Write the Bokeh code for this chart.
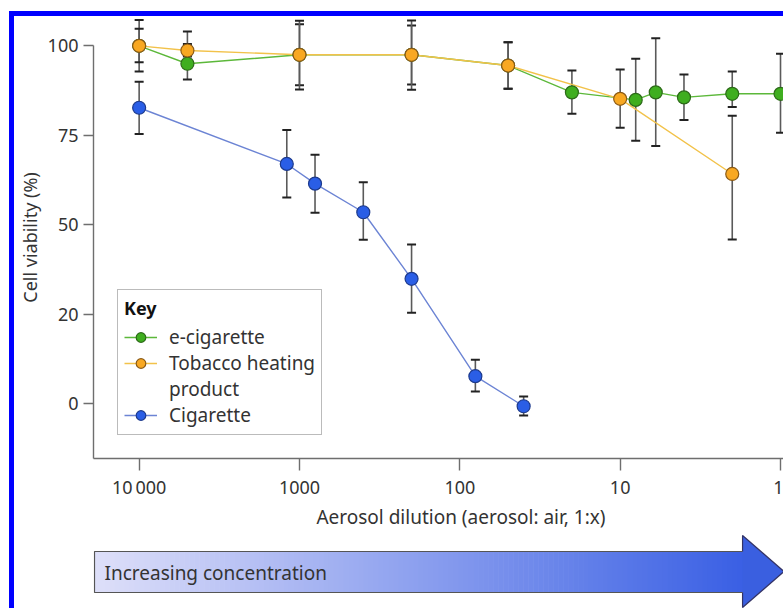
import numpy as np
from bokeh.plotting import figure
from bokeh.models import (Range1d, FixedTicker, Whisker, TeeHead, ColumnDataSource,
                          Legend, LegendItem, Div, Spacer)
from bokeh.layouts import column, row
from bokeh.embed import file_html
from bokeh.resources import INLINE
from bokeh.core.properties import value

FONT = "Noto Sans"
TEXT = "#333333"

# ---------------- data ----------------
dilution_ecig = [10000, 5000, 1000, 200, 50, 20, 8, 6, 4, 2, 1]
viability_ecig = [100, 95.0, 97.5, 97.5, 94.5, 87.0, 84.9, 87.0, 85.6, 86.6, 86.6]
ecig_upper = [107.2, 104.0, 106.0, 105.7, 101.0, 93.1, 96.4, 102.1, 92.0, 92.8, 97.8]
ecig_lower = [92.8, 90.6, 89.0, 89.2, 88.0, 81.0, 73.5, 72.0, 79.3, 82.9, 75.7]

dilution_thp = [10000, 5000, 1000, 200, 50, 10, 2]
viability_thp = [100, 98.7, 97.5, 97.5, 94.5, 85.2, 64.2]
thp_upper = [104.8, 100.5, 107.0, 107.1, 101.0, 93.4, 80.5]
thp_lower = [95.4, 97.0, 87.8, 87.7, 88.0, 77.1, 45.9]

dilution_cig = [10000, 1200, 800, 400, 200, 80, 40]
viability_cig = [82.7, 67.0, 61.5, 53.5, 34.9, 7.7, -0.7]
cig_upper = [90.0, 76.5, 69.6, 61.9, 44.5, 12.3, 2.0]
cig_lower = [75.4, 57.6, 53.4, 45.8, 25.4, 3.4, -3.3]

x_ticks = [10000, 1000, 100, 10, 1]
x_tick_labels = ["10\u2009000", "1000", "100", "10", "1"]
y_ticks = [0, 25, 50, 75, 100]
y_tick_labels = ["0", "20", "50", "75", "100"]

series_names = ["e-cigarette", "Tobacco heating", "product", "Cigarette"]
x_title = "Aerosol dilution (aerosol: air, 1:x)"
y_title = "Cell viability (%)"
arrow_text = "Increasing concentration"

# ---------------- main chart ----------------
p = figure(width=769, height=486, x_axis_type="log",
           x_range=Range1d(19260, 0.958), y_range=Range1d(-15.3, 108.2),
           output_backend="svg", toolbar_location=None, title=None,
           min_border_left=78, min_border_right=0, min_border_top=0,
           min_border_bottom=44, margin=0)
p.outline_line_color = None
p.grid.visible = False
p.background_fill_color = "white"
p.border_fill_color = "white"

for ax in (p.xaxis[0], p.yaxis[0]):
    ax.axis_line_color = "#6e6e6e"
    ax.axis_line_width = 1.4
    ax.major_tick_line_color = "#6e6e6e"
    ax.major_tick_line_width = 1.4
    ax.major_tick_in = 0
    ax.minor_tick_line_color = None
    ax.major_label_text_font = FONT
    ax.major_label_text_font_size = "18px"
    ax.major_label_text_color = TEXT
    ax.axis_label_text_font = FONT
    ax.axis_label_text_font_size = "18px"
    ax.axis_label_text_font_style = "normal"
    ax.axis_label_text_color = TEXT

p.xaxis.ticker = FixedTicker(ticks=x_ticks, minor_ticks=[])
p.xaxis.major_label_overrides = dict(zip(x_ticks, x_tick_labels))
p.xaxis.major_tick_out = 12
p.xaxis.major_label_standoff = 4

p.yaxis.ticker = FixedTicker(ticks=y_ticks, minor_ticks=[])
p.yaxis.major_label_overrides = dict(zip(y_ticks, y_tick_labels))
p.yaxis.major_tick_out = 10
p.yaxis.major_label_standoff = 5
p.yaxis.bounds = (-15.3, 100)
p.yaxis.axis_label = y_title
p.yaxis.axis_label_standoff = 3

styles = {
    "ecig": dict(line="#5cb83a", fill="#3fae1f", edge="#2c6a18"),
    "thp": dict(line="#f2c24a", fill="#f8a822", edge="#8a5a16"),
    "cig": dict(line="#6c84d4", fill="#2a5ee6", edge="#1d3a8c"),
}

sets = [
    ("ecig", dilution_ecig, viability_ecig, ecig_upper, ecig_lower),
    ("thp", dilution_thp, viability_thp, thp_upper, thp_lower),
    ("cig", dilution_cig, viability_cig, cig_upper, cig_lower),
]

renderers = {}
for key, xs, ys, up, lo in sets:
    st = styles[key]
    src = ColumnDataSource(dict(x=xs, y=ys, upper=up, lower=lo))
    w = Whisker(source=src, base="x", upper="upper", lower="lower",
                dimension="height", line_color="#5a5a5a", line_width=1.6,
                level="underlay",
                upper_head=TeeHead(size=9, line_color="#222222", line_width=2),
                lower_head=TeeHead(size=9, line_color="#222222", line_width=2))
    p.add_layout(w)
    ln = p.line("x", "y", source=src, line_color=st["line"], line_width=1.4)
    renderers[key] = [ln]

for key, xs, ys, up, lo in sets:
    st = styles[key]
    src = ColumnDataSource(dict(x=xs, y=ys))
    sc = p.scatter("x", "y", source=src, size=13, marker="circle",
                   fill_color=st["fill"], line_color=st["edge"], line_width=1.2)
    renderers[key].append(sc)

dummy = p.scatter(x=[], y=[], size=1, fill_alpha=0, line_alpha=0)

legend = Legend(items=[
    LegendItem(label=series_names[0], renderers=renderers["ecig"]),
    LegendItem(label=series_names[1], renderers=renderers["thp"]),
    LegendItem(label=series_names[2], renderers=[dummy]),
    LegendItem(label=series_names[3], renderers=renderers["cig"]),
], location=(24, 23), title="Key")
legend.title_text_font = FONT
legend.title_text_font_size = "18px"
legend.title_text_font_style = "bold"
legend.title_text_color = "#111111"
legend.title_standoff = 4
legend.label_text_font = FONT
legend.label_text_font_size = "19px"
legend.label_text_color = TEXT
legend.glyph_width = 33
legend.glyph_height = 24
legend.label_height = 24
legend.spacing = 0
legend.label_standoff = 12
legend.padding = 6
legend.margin = 0
legend.border_line_color = "#777777"
legend.border_line_width = 1.5
legend.background_fill_color = "white"
legend.background_fill_alpha = 1.0
p.add_layout(legend)

# ---------------- lower strip: axis title + arrow ----------------
# (its frame is aligned under the main chart's frame: x from 92 to 783 px)
p2 = figure(width=769, height=106, x_range=Range1d(92, 783), y_range=Range1d(608, 502),
            output_backend="svg", toolbar_location=None, title=None,
            x_axis_location=None, y_axis_location=None, min_border=0, margin=0)
p2.grid.visible = False
p2.outline_line_color = None
p2.border_fill_color = "white"

p2.text(x=[460], y=[516], text=[x_title], text_align="center", text_baseline="alphabetic",
        text_font=value(FONT), text_font_size="19px", text_color=TEXT)

bx0, bx1, by0, by1 = 93, 742, 551, 592
n = 130
edges = np.linspace(bx0, bx1, n + 1)
t = (np.arange(n) + 0.5) / n
c0 = np.array([222, 223, 249])
c1 = np.array([58, 96, 228])
cols = ["#%02x%02x%02x" % tuple(int(round(v)) for v in (c0 + (c1 - c0) * ti)) for ti in t]
p2.quad(left=edges[:-1], right=edges[1:] + 0.6, bottom=by1, top=by0,
        fill_color=cols, line_color=None)
p2.patch(x=[742, 783.5, 742], y=[535, 571, 607], fill_color="#3a5fe0", line_color=None)
p2.line(x=[742, bx0, bx0, 742], y=[by0, by0, by1, by1], line_color="#555555", line_width=1.2)
p2.line(x=[742, 742, 783.5, 742, 742], y=[by0, 535, 571, 607, by1],
        line_color="#333366", line_width=1.2)
p2.text(x=[103], y=[572], text=[arrow_text], text_align="left", text_baseline="middle",
        text_font=value(FONT), text_font_size="19px", text_color=TEXT)

# ---------------- frame (blue border) and layout ----------------
BLUE = "#0000ff"
top_bar = Div(width=774, height=5, margin=0, styles={"background-color": BLUE})
left_bar = Div(width=5, height=592, margin=0, styles={"background-color": BLUE})

layout = column(
    Spacer(width=783, height=11, margin=0),
    row(Spacer(width=9, height=5, margin=0), top_bar, margin=0, spacing=0),
    row(Spacer(width=9, height=592, margin=0), left_bar,
        column(p, p2, margin=0, spacing=0), margin=0, spacing=0),
    margin=0, spacing=0,
)

open("out.html", "w").write(file_html(layout, INLINE))
